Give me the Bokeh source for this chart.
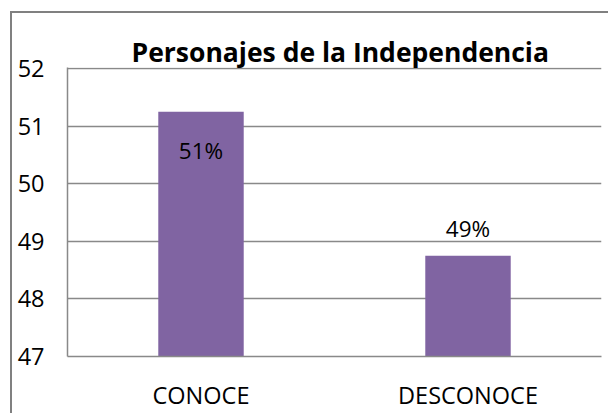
from bokeh.plotting import figure
from bokeh.models import ColumnDataSource, FactorRange, Range1d, FixedTicker
from bokeh.core.properties import value
from bokeh.embed import file_html
from bokeh.resources import INLINE

# ---- data ----
categories = ["CONOCE", "DESCONOCE"]
values = [51.25, 48.75]
labels = ["51%", "49%"]
y_ticks = [47, 48, 49, 50, 51, 52]

title_text = "Personajes de la Independencia"

FONT = "Open Sans"
GRID = "#898989"
BAR = "#8064A2"
FRAME = "#808080"

p = figure(
    width=608, height=413,
    x_range=FactorRange(*categories, range_padding=0),
    y_range=Range1d(47, 52.02),
    output_backend="svg", toolbar_location=None,
    min_border_left=67, min_border_right=7, min_border_top=67, min_border_bottom=54,
    background_fill_color="white", border_fill_color=None,
)
p.outline_line_color = None
# outer chart frame (left and top edges visible), drawn behind the transparent border area
p.styles = {
    "background": (f"linear-gradient({FRAME},{FRAME}) 10px 11px / 2px 100% no-repeat, "
                   f"linear-gradient({FRAME},{FRAME}) 10px 11px / 100% 2px no-repeat, white"),
}

src = ColumnDataSource(dict(cat=categories, val=values, lab=labels))
p.vbar(x="cat", top="val", bottom=47, width=0.32, source=src,
       fill_color=BAR, line_color=None)

# data labels: first inside the bar, second above it
p.text(x=[categories[0]], y=[values[0]], text=[labels[0]], text_align="center",
       text_baseline="alphabetic", y_offset=39, text_font=value(FONT),
       text_font_size="22.5px", text_color="black")
p.text(x=[categories[1]], y=[values[1]], text=[labels[1]], text_align="center",
       text_baseline="alphabetic", y_offset=-27, text_font=value(FONT),
       text_font_size="22.5px", text_color="black")

# title
p.title.text = title_text
p.title.align = "left"
p.title.offset = 64
p.title.standoff = -5
p.title.text_font = FONT
p.title.text_font_size = "26.5px"
p.title.text_font_style = "bold"
p.title.text_color = "black"

# axes
p.yaxis.ticker = FixedTicker(ticks=y_ticks)
p.yaxis.major_tick_line_color = None
p.yaxis.minor_tick_line_color = None
p.yaxis.axis_line_color = GRID
p.yaxis.axis_line_width = 1.5
p.yaxis.major_label_standoff = 17
p.yaxis.major_label_text_font = FONT
p.yaxis.major_label_text_font_size = "23.5px"
p.yaxis.major_label_text_color = "black"

p.xaxis.major_tick_line_color = None
p.xaxis.minor_tick_line_color = None
p.xaxis.axis_line_color = GRID
p.xaxis.axis_line_width = 1.5
p.xaxis.major_label_standoff = 16
p.xaxis.major_label_text_font = FONT
p.xaxis.major_label_text_font_size = "23.5px"
p.xaxis.major_label_text_color = "black"

p.xgrid.grid_line_color = None
p.ygrid.ticker = FixedTicker(ticks=y_ticks)
p.ygrid.grid_line_color = GRID
p.ygrid.grid_line_width = 1.5

open("out.html", "w").write(file_html(p, INLINE))
